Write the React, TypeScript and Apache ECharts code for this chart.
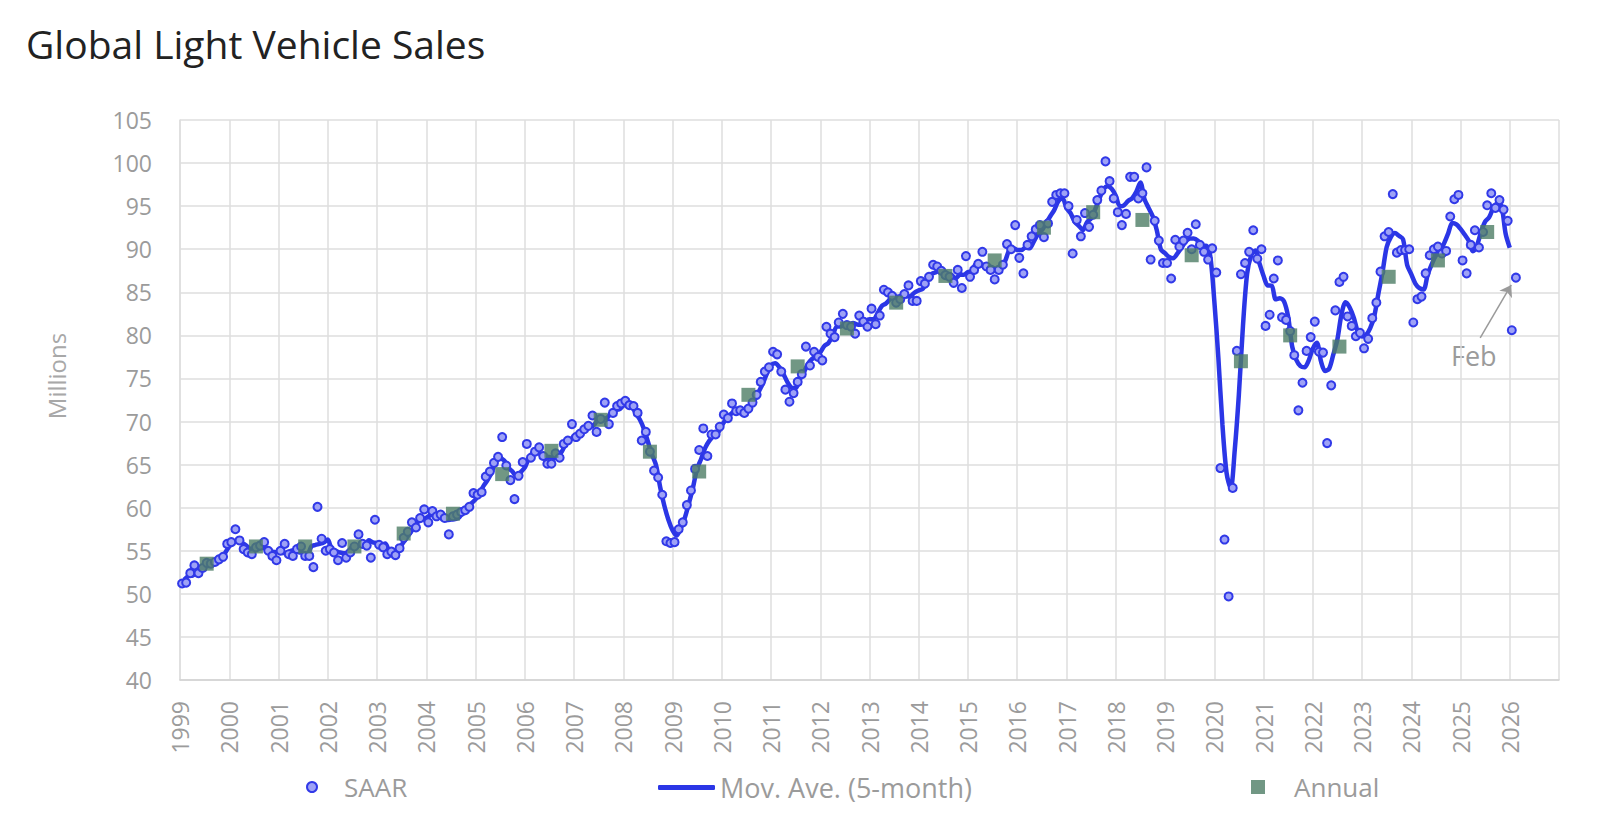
import React, { useEffect, useRef } from "react";
import * as echarts from "echarts";

// ---- data ----
const START_YEAR = 1999;

// monthly SAAR, millions, Jan 1999 .. Feb 2026
const saar: number[] = [
  // 1999
  51.2, 51.3, 52.4, 53.3, 52.4, 53.0, 53.6, 53.5, 53.7, 54.0, 54.3, 55.8,
  // 2000
  56.0, 57.5, 56.2, 55.2, 54.8, 54.6, 55.4, 55.6, 56.0, 55.0, 54.4, 53.9,
  // 2001
  55.0, 55.8, 54.6, 54.4, 55.2, 55.5, 54.4, 54.4, 53.1, 60.1, 56.4, 55.0,
  // 2002
  55.2, 54.8, 53.9, 55.9, 54.2, 54.8, 55.5, 56.9, 55.8, 55.6, 54.2, 58.6,
  // 2003
  55.7, 55.4, 54.6, 54.9, 54.5, 55.3, 56.5, 57.2, 58.3, 57.7, 58.8, 59.8,
  // 2004
  58.3, 59.6, 59.0, 59.2, 58.8, 56.9, 59.0, 59.2, 59.5, 59.7, 60.1, 61.7,
  // 2005
  61.5, 61.8, 63.6, 64.2, 65.2, 65.9, 68.2, 64.9, 63.2, 61.0, 63.7, 65.3,
  // 2006
  67.4, 65.8, 66.5, 67.0, 66.0, 65.1, 65.1, 66.3, 65.8, 67.4, 67.8, 69.7,
  // 2007
  68.2, 68.6, 69.1, 69.5, 70.7, 68.8, 70.3, 72.2, 69.7, 71.0, 71.8, 72.1,
  // 2008
  72.4, 71.9, 71.8, 71.0, 67.8, 68.8, 66.5, 64.3, 63.5, 61.5, 56.1, 55.9,
  // 2009
  56.0, 57.5, 58.3, 60.3, 62.0, 64.5, 66.7, 69.2, 66.0, 68.5, 68.5, 69.4,
  // 2010
  70.8, 70.4, 72.1, 71.2, 71.3, 71.0, 71.5, 72.2, 73.1, 74.6, 75.8, 76.3,
  // 2011
  78.1, 77.8, 75.8, 73.7, 72.3, 73.3, 74.6, 75.5, 78.7, 76.5, 78.1, 77.5,
  // 2012
  77.1, 81.0, 80.2, 79.8, 81.5, 82.5, 81.2, 81.0, 80.2, 82.3, 81.6, 81.0,
  // 2013
  83.1, 81.3, 82.3, 85.3, 85.0, 84.6, 83.8, 84.2, 84.8, 85.8, 84.0, 84.0,
  // 2014
  86.3, 86.0, 86.8, 88.2, 88.0, 87.5, 87.0, 86.8, 86.1, 87.6, 85.5, 89.2,
  // 2015
  86.8, 87.6, 88.3, 89.7, 88.0, 87.6, 86.5, 87.6, 88.2, 90.6, 90.0, 92.8,
  // 2016
  89.0, 87.2, 90.5, 91.5, 92.3, 92.8, 91.4, 93.0, 95.5, 96.3, 96.5, 96.5,
  // 2017
  95.0, 89.5, 93.4, 91.5, 94.2, 92.6, 94.0, 95.7, 96.8, 100.2, 97.9, 95.9,
  // 2018
  94.3, 92.8, 94.1, 98.4, 98.4, 95.9, 96.5, 99.5, 88.8, 93.3, 91.0, 88.4,
  // 2019
  88.4, 86.6, 91.1, 90.3, 91.0, 91.9, 90.0, 92.9, 90.5, 89.7, 88.8, 90.1,
  // 2020
  87.3, 64.6, 56.3, 49.7, 62.3, 78.2, 87.1, 88.4, 89.7, 92.2, 88.9, 90.0,
  // 2021
  81.1, 82.4, 86.6, 88.7, 82.1, 81.8, 80.5, 77.7, 71.3, 74.5, 78.2, 79.8,
  // 2022
  81.6, 78.1, 78.0, 67.5, 74.2, 82.9, 86.2, 86.8, 82.2, 81.1, 79.9, 80.3,
  // 2023
  78.5, 79.6, 82.0, 83.8, 87.4, 91.5, 92.0, 96.4, 89.6, 89.9, 89.9, 90.0,
  // 2024
  81.5, 84.2, 84.5, 87.2, 89.3, 90.0, 90.3, 89.5, 89.8, 93.8, 95.8, 96.3,
  // 2025
  88.7, 87.2, 90.5, 92.2, 90.2, 92.0, 95.1, 96.5, 94.8, 95.7, 94.6, 93.3,
  // 2026
  80.6, 86.7,
];

// annual totals, 1999 .. 2025
const annualSales: number[] = [
  53.5, 55.5, 55.5, 55.5, 57.0, 59.3, 63.9, 66.6, 70.2, 66.5, 64.2, 73.1, 76.4,
  80.8, 83.8, 86.9, 88.7, 92.5, 94.3, 93.4, 89.3, 77.0, 80.0, 78.7, 86.8, 88.7,
  92.0,
];

const X_MIN = 1999;
const X_MAX = 2027;
const Y_MIN = 40;
const Y_MAX = 105;
const Y_STEP = 5;
const MA_WINDOW = 5;

const FONT = "'Open Sans', Roboto, sans-serif";
const LABEL_GRAY = "#9b9b9b";

export default function App() {
  const ref = useRef<HTMLDivElement>(null);

  useEffect(() => {
    if (!ref.current) return;
    const chart = echarts.init(ref.current, null, { renderer: "svg" });

    const saarData = saar.map((v, i) => [START_YEAR + (i + 0.5) / 12, v]);

    // centered 5-month moving average of the SAAR values
    const half = Math.floor(MA_WINDOW / 2);
    const maData: number[][] = [];
    for (let i = 0; i < saar.length - half; i++) {
      const lo = Math.max(0, i - half);
      const hi = i + half;
      let s = 0;
      for (let j = lo; j <= hi; j++) s += saar[j];
      maData.push([START_YEAR + (i + 1) / 12, +(s / (hi - lo + 1)).toFixed(2)]);
    }

    const annualData = annualSales.map((v, k) => [START_YEAR + k + 6.5 / 12, v]);
    const last = saarData[saarData.length - 1];

    chart.setOption({
      animation: false,
      backgroundColor: "#ffffff",
      title: {
        text: "Global Light Vehicle Sales",
        left: 26,
        top: 24,
        padding: 0,
        textStyle: { fontSize: 39, fontWeight: 400, color: "#222222", fontFamily: FONT },
      },
      grid: { left: 180, right: 53, top: 120, bottom: 148 },
      legend: [
        {
          data: [{ name: "SAAR", icon: "circle" }],
          left: 306,
          top: 774,
          padding: 0,
          selectedMode: false,
          itemWidth: 10,
          itemHeight: 10,
          textStyle: { color: LABEL_GRAY, fontSize: 26, fontFamily: FONT, padding: [0, 0, 0, 22] },
        },
        {
          data: [{ name: "Mov. Ave. (5-month)", icon: "roundRect" }],
          left: 658,
          top: 774,
          padding: 0,
          selectedMode: false,
          itemWidth: 57,
          itemHeight: 5,
          textStyle: { color: LABEL_GRAY, fontSize: 27, fontFamily: FONT },
        },
        {
          data: [{ name: "Annual", icon: "rect" }],
          left: 1251,
          top: 774,
          padding: 0,
          selectedMode: false,
          itemWidth: 14,
          itemHeight: 14,
          textStyle: { color: LABEL_GRAY, fontSize: 26, fontFamily: FONT, padding: [0, 0, 0, 24] },
        },
      ],
      xAxis: {
        type: "value",
        min: X_MIN,
        max: X_MAX,
        interval: 1,
        axisLine: { show: true, lineStyle: { color: "#d2d2d2", width: 1.5 } },
        axisTick: { show: false },
        axisLabel: {
          rotate: 90,
          margin: 21,
          color: LABEL_GRAY,
          fontSize: 23,
          fontFamily: FONT,
          formatter: (v: number) => (v >= X_MAX ? "" : String(v)),
        },
        splitLine: { show: true, lineStyle: { color: "#dedede", width: 1.5 } },
      },
      yAxis: {
        type: "value",
        min: Y_MIN,
        max: Y_MAX,
        interval: Y_STEP,
        axisLine: { show: true, lineStyle: { color: "#dedede", width: 1.5 } },
        axisTick: { show: false },
        axisLabel: { color: LABEL_GRAY, fontSize: 23, fontFamily: FONT, margin: 28 },
        splitLine: { show: true, lineStyle: { color: "#dedede", width: 1.5 } },
      },
      series: [
        {
          name: "Mov. Ave. (5-month)",
          type: "line",
          data: maData,
          symbol: "none",
          smooth: 0.3,
          z: 2,
          itemStyle: { color: "#2b36e6" },
          lineStyle: { color: "#2b36e6", width: 4.5 },
        },
        {
          name: "SAAR",
          type: "scatter",
          data: saarData,
          symbol: "circle",
          symbolSize: 8,
          z: 3,
          itemStyle: { color: "#9ea2f6", borderColor: "#3139e8", borderWidth: 2, opacity: 1 },
          markLine: {
            silent: true,
            symbol: ["none", "arrow"],
            symbolSize: 11,
            label: { show: false },
            lineStyle: { color: "#9a9a9a", width: 1.5, type: "solid" },
            data: [[{ coord: [2025.4, 79.7] }, { coord: [last[0] - 0.095, last[1] - 0.85] }]],
          },
        },
        {
          name: "Annual",
          type: "scatter",
          data: annualData,
          symbol: "rect",
          symbolSize: 14,
          z: 4,
          itemStyle: { color: "#4e7d65" },
        },
      ],
      graphic: [
        {
          type: "text",
          x: 56,
          y: 376,
          rotation: Math.PI / 2,
          style: {
            text: "Millions",
            fill: "#a8a8a8",
            font: `24px ${FONT}`,
            align: "center",
            verticalAlign: "middle",
          },
        },
        {
          type: "text",
          left: 1451,
          top: 342,
          style: { text: "Feb", fill: "#9b9b9b", font: `27px ${FONT}` },
        },
      ],
    });

    return () => chart.dispose();
  }, []);

  return (
    <div
      ref={ref}
      style={{ position: "absolute", left: 0, top: 0, width: 1612, height: 828, background: "#fff" }}
    />
  );
}
